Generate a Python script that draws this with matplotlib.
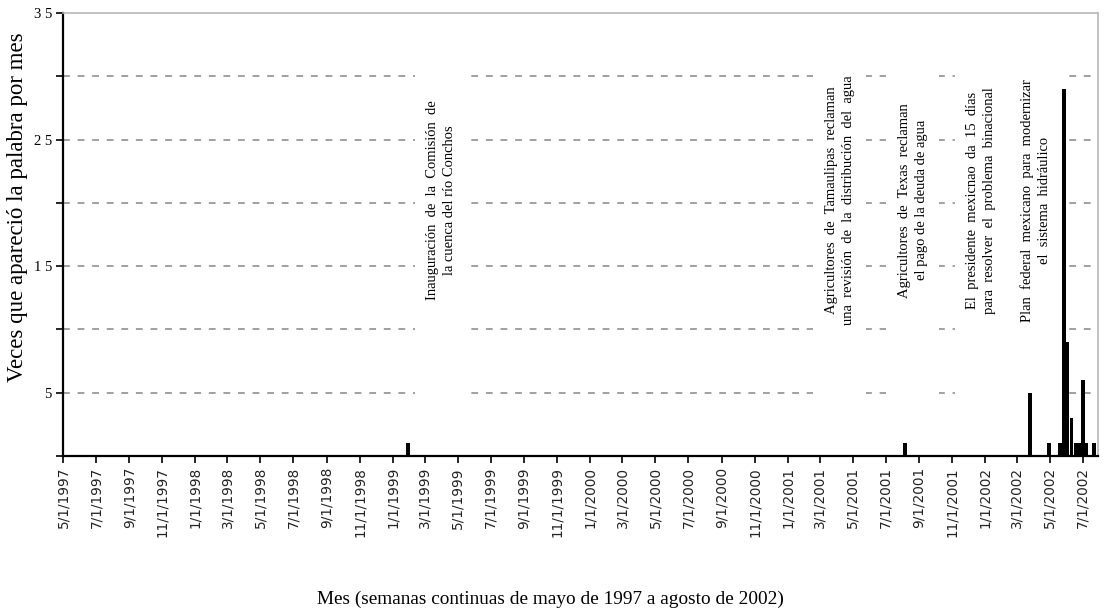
import pandas as pd
import matplotlib
matplotlib.use('Agg')
import matplotlib.pyplot as plt
import matplotlib.dates as mdates
from matplotlib.ticker import FuncFormatter

# weeks with at least one mention (all other weeks are zero)
week_dates = ['1999-01-29', '2001-08-06', '2002-03-25', '2002-04-29', '2002-05-20',
              '2002-05-27', '2002-06-03', '2002-06-10', '2002-06-17', '2002-06-24',
              '2002-07-01', '2002-07-08', '2002-07-22']
counts = [1, 1, 5, 1, 1, 29, 9, 3, 1, 1, 6, 1, 1]

event_dates = ['1999-04-01', '2001-04-07', '2001-08-20', '2001-12-25', '2002-04-04']
event_texts = [
    'Inauguración  de  la  Comisión  de\nla cuenca del río Conchos',
    'Agricultores  de  Tamaulipas  reclaman\nuna  revisión  de  la  distribución  del  agua',
    'Agricultores  de  Texas  reclaman\nel pago de la deuda de agua',
    'El  presidente  mexicnao  da  15  días\npara  resolver  el  problema  binacional',
    'Plan  federal  mexicano  para  modernizar\nel  sistema  hidráulico',
]

ytick_vals = [0, 5, 10, 15, 20, 25, 30, 35]
ytick_labels = ['', '5', '', '1 5', '', '2 5', '', '3 5']

serif = 'Liberation Serif'

fig = plt.figure(figsize=(11.04, 6.11), dpi=100)
ax = fig.add_axes([63 / 1104, 1 - 456 / 611, 1035 / 1104, 443 / 611])

x = pd.to_datetime(week_dates)
ax.bar(x, counts, width=6.5, color='black', zorder=3)

for v in ytick_vals[1:-1]:
    ax.axhline(v, color='#a0a0a0', lw=1.4, ls=(0, (3.5, 4)), zorder=1)

gap = pd.Timedelta(days=49)
for d, t in zip(pd.to_datetime(event_dates), event_texts):
    ax.fill_between([d - gap, d + gap], 3.5, 32, color='white', lw=0, zorder=2)
    ax.text(d, 20.2, t, rotation=90, ha='center', va='center', multialignment='center',
            fontsize=10.5, family=serif, linespacing=1.4, zorder=4)

ax.set_xlim(pd.Timestamp('1997-05-01'), pd.Timestamp('2002-07-29'))
ax.set_ylim(0, 35)

ax.xaxis.set_major_locator(mdates.MonthLocator(bymonth=(1, 3, 5, 7, 9, 11)))
ax.xaxis.set_major_formatter(FuncFormatter(
    lambda v, p: '{d.month}/{d.day}/{d.year}'.format(d=mdates.num2date(v))))
ax.tick_params(axis='x', rotation=90, labelsize=9.8, length=5, width=1.2,
               labelcolor='#222222', pad=3)
for lab in ax.get_xticklabels():
    lab.set_family('DejaVu Sans')

ax.set_yticks(ytick_vals)
ax.set_yticklabels(ytick_labels, family=serif, fontsize=10.5)
ax.tick_params(axis='y', length=5, width=1.2, pad=3)

for s in ['left', 'bottom']:
    ax.spines[s].set_linewidth(1.6)
    ax.spines[s].set_color('black')
for s in ['top', 'right']:
    ax.spines[s].set_linewidth(1.2)
    ax.spines[s].set_color('#b8b8b8')

fig.text(18 / 1104, 1 - 207 / 611, 'Veces que apareció la palabra por mes', rotation=90,
         ha='center', va='center', family=serif, fontsize=16.5)
fig.text(550 / 1104, 1 - 599 / 611, 'Mes (semanas continuas de mayo de 1997 a agosto de 2002)',
         ha='center', va='center', family=serif, fontsize=13.9)

fig.savefig('out.png', dpi=100)
